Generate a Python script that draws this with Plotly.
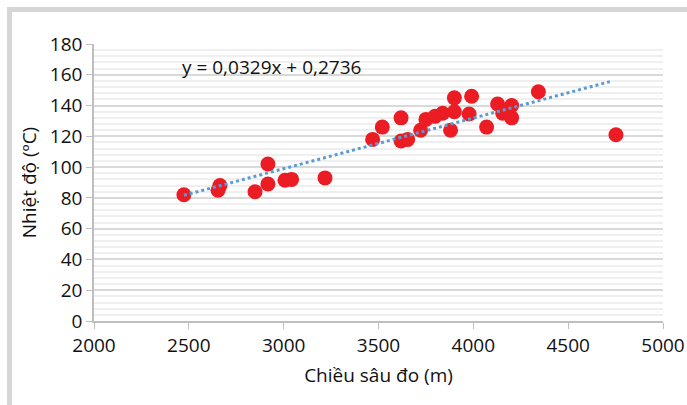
import plotly.graph_objects as go

# Data
depth_m = [2474, 2664, 2654, 2849, 2917, 2917, 3007, 3042, 3218, 3469, 3520,
           3619, 3619, 3654, 3722, 3750, 3798, 3838, 3900, 3900, 3880, 3991,
           3978, 4070, 4128, 4155, 4202, 4202, 4343, 4752]
temp_c = [82, 88, 85, 84, 102, 89, 91.5, 92, 93, 118, 126,
          132, 117, 118, 124, 131, 133, 135, 145, 136, 124, 146,
          134.5, 126, 141, 135, 140, 132, 149, 121]

slope = 0.0329
intercept = 0.2736
trend_x = [2474, 4720]
trend_y = [slope * x + intercept for x in trend_x]

x_ticks = [2000, 2500, 3000, 3500, 4000, 4500, 5000]
y_ticks = [0, 20, 40, 60, 80, 100, 120, 140, 160, 180]

FONT = "Open Sans, Liberation Sans, sans-serif"
FS = 19
TXT = "#111111"

fig = go.Figure()
fig.add_trace(go.Scatter(
    x=depth_m, y=temp_c, mode="markers",
    marker=dict(size=15, color="#ec1c24", line=dict(width=0)),
    showlegend=False, cliponaxis=False))
fig.add_trace(go.Scatter(
    x=trend_x, y=trend_y, mode="lines",
    line=dict(color="#5b9bd5", width=3, dash="dot"),
    showlegend=False))

W, H = 687, 405
ml, mr, mt, mb = 94, 24, 44, 84
pw, ph = W - ml - mr, H - mt - mb


def px_x(p):
    return (p - ml) / pw


def px_y(p):
    return (H - mb - p) / ph


border = "#d5d6d6"
shapes = [
    dict(type="line", xref="paper", yref="paper",
         x0=px_x(9.5), x1=px_x(9.5), y0=px_y(7), y1=px_y(420),
         line=dict(color=border, width=5)),
    dict(type="line", xref="paper", yref="paper",
         x0=px_x(7), x1=px_x(700), y0=px_y(9.5), y1=px_y(9.5),
         line=dict(color=border, width=5)),
]

fig.add_annotation(
    x=2455, y=165, xref="x", yref="y", text="y = 0,0329x + 0,2736",
    showarrow=False, xanchor="left", yanchor="middle",
    font=dict(family=FONT, size=FS, color=TXT))

fig.update_layout(
    width=W, height=H,
    margin=dict(l=ml, r=mr, t=mt, b=mb, autoexpand=False),
    paper_bgcolor="white", plot_bgcolor="white",
    font=dict(family=FONT, size=FS, color=TXT),
    shapes=shapes,
    xaxis=dict(
        range=[2000, 5000], tickvals=x_ticks, ticktext=[str(v) for v in x_ticks],
        showgrid=False, zeroline=False, automargin=False,
        showline=True, linecolor="#bfbfbf", linewidth=1.5,
        ticks="outside", ticklen=6, tickcolor="#bfbfbf",
        tickfont=dict(family=FONT, size=FS, color=TXT),
        title=dict(text="Chiều sâu đo (m)", font=dict(family=FONT, size=FS, color=TXT), standoff=12),
    ),
    yaxis=dict(
        range=[0, 180], tickvals=y_ticks, ticktext=[str(v) for v in y_ticks],
        showgrid=True, gridcolor="#d9d9d9", gridwidth=1.5, zeroline=False,
        automargin=False,
        showline=True, linecolor="#bfbfbf", linewidth=1.5,
        ticks="outside", ticklen=6, tickcolor="#bfbfbf",
        tickfont=dict(family=FONT, size=FS, color=TXT),
        minor=dict(dtick=4, showgrid=True, gridcolor="#efefef", gridwidth=1.5),
        title=dict(text="Nhiệt độ (ºC)", font=dict(family=FONT, size=FS, color=TXT), standoff=8),
    ),
)

fig.write_html("out.html")
